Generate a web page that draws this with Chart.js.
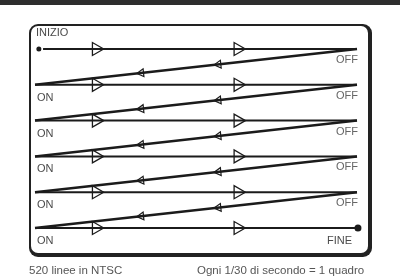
<!DOCTYPE html>
<html>
<head>
<meta charset="utf-8">
<script src="https://cdn.jsdelivr.net/npm/chart.js@4/dist/chart.umd.min.js"></script>
<style>
  html, body { margin: 0; padding: 0; background: #fff; }
  #wrap { width: 400px; height: 280px; }
</style>
</head>
<body>
<div id="wrap"><canvas id="scan"></canvas></div>
<script>
// scan lines (row index), horizontal position runs 0..100 % of the line width
const rows = [0, 1, 2, 3, 4, 5];
const lineStart = 0;
const lineEnd = 100;
const firstLineStart = 2.5; // the first line begins just after the start dot
// forward-trace arrows (on every line) and retrace arrows (on the diagonals), in %
const traceArrowAt = [19, 63];
const retraceArrowAt = [33, 57];
// labels
const startLabel = 'INIZIO';
const endLabel = 'FINE';
const onLabel = 'ON';
const offLabel = 'OFF';
const captionLeft = '520 linee in NTSC';
const captionRight = 'Ogni 1/30 di secondo = 1 quadro';

const ink = '#1b1b1b';
const datasets = [];

// visible scan lines
rows.forEach((r, i) => {
    datasets.push({
        data: [{ x: i === 0 ? firstLineStart : lineStart, y: r }, { x: lineEnd, y: r }], clip: false,
        showLine: true, borderColor: ink, borderWidth: 2, pointRadius: 0
    });
});

// retrace: from the start of the next line back up to the end of this one
rows.slice(0, -1).forEach(r => {
    datasets.push({
        data: [{ x: lineStart, y: r + 1 }, { x: lineEnd, y: r }], clip: false,
        showLine: true, borderColor: ink, borderWidth: 2.5, pointRadius: 0
    });
});

// arrows on the scan lines
const traceArrows = [];
rows.forEach(r => traceArrowAt.forEach(t => traceArrows.push({ x: t, y: r })));
datasets.push({
    data: traceArrows, showLine: false, clip: false,
    pointStyle: 'triangle', rotation: 90, pointRadius: 7.5,
    borderColor: ink, borderWidth: 1.3, backgroundColor: 'rgba(0,0,0,0)'
});

// arrows on the retrace lines
const retraceArrows = [];
rows.slice(0, -1).forEach(r => retraceArrowAt.forEach(t => {
    retraceArrows.push({ x: t, y: r + 1 - t / lineEnd });
}));
datasets.push({
    data: retraceArrows, showLine: false, clip: false,
    pointStyle: 'triangle', rotation: -96, pointRadius: 4.5,
    borderColor: ink, borderWidth: 1.2, backgroundColor: 'rgba(0,0,0,0)'
});

// start and end dots
datasets.push({
    data: [{ x: lineStart + 1.2, y: rows[0] }], showLine: false, clip: false,
    pointStyle: 'circle', pointRadius: 2.5, backgroundColor: ink, borderWidth: 0
});
datasets.push({
    data: [{ x: lineEnd + 0.3, y: rows[rows.length - 1] }], showLine: false, clip: false,
    pointStyle: 'circle', pointRadius: 3.5, backgroundColor: ink, borderWidth: 0
});

function roundRect(ctx, x, y, w, h, r) {
    ctx.beginPath();
    ctx.moveTo(x + r, y);
    ctx.arcTo(x + w, y, x + w, y + h, r);
    ctx.arcTo(x + w, y + h, x, y + h, r);
    ctx.arcTo(x, y + h, x, y, r);
    ctx.arcTo(x, y, x + w, y, r);
    ctx.closePath();
}

const framePlugin = {
    id: 'frame',
    beforeDatasetsDraw(chart) {
        const ctx = chart.ctx;
        ctx.save();
        // dark strip at the top of the scan
        ctx.fillStyle = '#2e2e2e';
        ctx.fillRect(0, 0, chart.width, 5);
        // framed screen with heavier right/bottom edge
        ctx.fillStyle = '#222';
        roundRect(ctx, 29, 24, 343, 233, 9);
        ctx.fill();
        ctx.fillStyle = '#fff';
        roundRect(ctx, 31, 26, 337, 227, 7);
        ctx.fill();
        ctx.restore();
    },
    afterDatasetsDraw(chart) {
        const ctx = chart.ctx;
        const xs = chart.scales.x, ys = chart.scales.y;
        const x0 = xs.getPixelForValue(lineStart);
        const x1 = xs.getPixelForValue(lineEnd);
        ctx.save();
        ctx.font = '11px "Liberation Sans", Arial, sans-serif';
        ctx.textBaseline = 'middle';
        ctx.fillStyle = '#4a4a4a';
        ctx.textAlign = 'left';
        ctx.fillText(startLabel, x0 + 1, ys.getPixelForValue(rows[0]) - 16);
        rows.slice(1).forEach(r => {
            ctx.fillText(onLabel, x0 + 2, ys.getPixelForValue(r) + 13);
        });
        ctx.fillStyle = '#666';
        ctx.textAlign = 'right';
        rows.slice(0, -1).forEach(r => {
            ctx.fillText(offLabel, x1 + 1, ys.getPixelForValue(r) + 11);
        });
        ctx.fillStyle = '#4a4a4a';
        ctx.fillText(endLabel, x1 - 5, ys.getPixelForValue(rows[rows.length - 1]) + 13);
        // captions under the frame
        ctx.font = '11.5px "Liberation Sans", Arial, sans-serif';
        ctx.fillStyle = '#555';
        ctx.textAlign = 'left';
        ctx.fillText(captionLeft, 29, 271);
        ctx.fillText(captionRight, 197, 271);
        ctx.restore();
    }
};

new Chart(document.getElementById('scan'), {
    type: 'scatter',
    data: { datasets },
    options: {
        responsive: true,
        maintainAspectRatio: false,
        animation: false,
        layout: { padding: { left: 35, right: 43, top: 49, bottom: 52 } },
        scales: {
            x: { type: 'linear', min: lineStart, max: lineEnd, display: false },
            y: { type: 'linear', min: rows[0], max: rows[rows.length - 1], reverse: true, display: false }
        },
        plugins: { legend: { display: false }, tooltip: { enabled: false } },
        elements: { line: { tension: 0 } }
    },
    plugins: [framePlugin]
});
</script>
</body>
</html>
